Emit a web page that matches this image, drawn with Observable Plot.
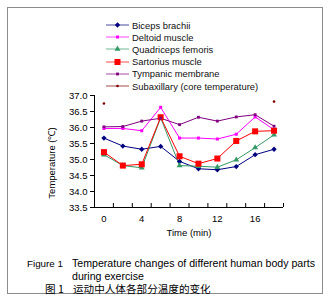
<!DOCTYPE html>
<html>
<head>
<meta charset="utf-8">
<script src="https://cdn.jsdelivr.net/npm/d3@7"></script>
<script src="https://cdn.jsdelivr.net/npm/@observablehq/plot@0.6"></script>
<style>
  html, body { margin: 0; padding: 0; background: #fff; }
  #wrap { position: relative; width: 331px; height: 300px; font-family: "Liberation Sans", Arial, sans-serif; color: #000; overflow: hidden; }
  #frame { position: absolute; left: 7px; top: 7px; width: 316px; height: 287px; border: 1px solid #8c8c8c; box-sizing: border-box; }
  .abs { position: absolute; white-space: nowrap; line-height: 11px; }
  #legend .row { position: absolute; left: 106px; height: 12px; display: flex; align-items: center; font-size: 9.4px; color: #111; }
  #legend svg { display: block; margin-right: 3px; }
  #plot { position: absolute; left: 0; top: 85px; }
  #ylab { position: absolute; left: 51px; top: 163px; transform: translate(-50%, -50%) rotate(-90deg); font-size: 9.5px; white-space: nowrap; }
  .cap { font-size: 10.6px; }
  .zh { font-family: "Noto Sans CJK SC", sans-serif; font-size: 10.6px; }
</style>
</head>
<body>
<div id="wrap">
  <div id="frame"></div>
  <div id="legend"></div>
  <div id="plot"></div>
  <div id="ylab">Temperature (℃)</div>
  <div class="abs cap" style="left:27px; top:257.5px; font-size:9.8px;">Figure 1</div>
  <div class="abs cap" style="left:72px; top:257.5px;">Temperature changes of different human body parts</div>
  <div class="abs cap" style="left:72px; top:270.5px;">during exercise</div>
  <div class="abs zh" style="left:45px; top:282.5px;">图 1</div>
  <div class="abs zh" style="left:73px; top:282.5px;">运动中人体各部分温度的变化</div>
</div>
<script>
// ---- data ----
const times = [0, 2, 4, 6, 8, 10, 12, 14, 16, 18];
const biceps = [35.67, 35.42, 35.32, 35.41, 34.94, 34.71, 34.68, 34.78, 35.15, 35.32];
const deltoid = [35.97, 35.97, 35.90, 36.63, 35.67, 35.67, 35.64, 35.79, 36.33, 35.93];
const quadriceps = [35.15, 34.81, 34.74, 36.30, 34.81, 34.79, 34.76, 34.99, 35.37, 35.77];
const sartorius = [35.23, 34.81, 34.85, 36.32, 35.10, 34.87, 35.03, 35.58, 35.88, 35.90];
const tympanic = [36.02, 36.03, 36.20, 36.29, 36.09, 36.32, 36.20, 36.33, 36.40, 36.04];
const subaxillaryTimes = [0, 18];
const subaxillary = [36.75, 36.81];

const seriesNames = ["Biceps brachii", "Deltoid muscle", "Quadriceps femoris", "Sartorius muscle", "Tympanic membrane", "Subaxillary (core temperature)"];
const seriesColors = ["#000080", "#ff00ff", "#339966", "#ff0000", "#800080", "#800000"];
const seriesSymbols = ["diamond2", "square", "triangle", "square", "square", "circle"];
const seriesR = [2.4, 1.7, 2.2, 3.4, 1.6, 1.3];
const seriesLines = [true, true, true, true, true, false];

const xTickLabels = [0, 4, 8, 12, 16];
const xTickMarks = [-1, 1, 3, 5, 7, 9, 11, 13, 15, 17, 19];
const yTicks = [33.5, 34.0, 34.5, 35.0, 35.5, 36.0, 36.5, 37.0];

const seriesValues = [biceps, deltoid, quadriceps, sartorius, tympanic, subaxillary];
const seriesTimes = [times, times, times, times, times, subaxillaryTimes];

const tables = seriesValues.map((vals, i) => vals.map((v, j) => ({series: seriesNames[i], time: seriesTimes[i][j], value: v})));

const marks = [
  Plot.ruleX([-1], {stroke: "#000", strokeWidth: 1}),
  Plot.ruleY([33.5], {stroke: "#000", strokeWidth: 1}),
  Plot.axisY({ticks: yTicks, tickFormat: d => d.toFixed(1), tickSize: 4, tickPadding: 3, label: null, fontSize: 9.5}),
  Plot.axisX({ticks: xTickMarks, tickSize: -4, tickFormat: () => "", label: null}),
  Plot.axisX({ticks: xTickLabels, tickSize: 0, tickPadding: 8, label: "Time (min)", labelAnchor: "center", labelOffset: 28, labelArrow: "none", fontSize: 9.5})
];
tables.forEach((t, i) => {
  if (seriesLines[i]) marks.push(Plot.line(t, {x: "time", y: "value", stroke: seriesColors[i], strokeWidth: 1}));
});
tables.forEach((t, i) => {
  marks.push(Plot.dot(t, {x: "time", y: "value", symbol: () => seriesSymbols[i], r: seriesR[i], fill: seriesColors[i], stroke: "none"}));
});

const chart = Plot.plot({
  width: 331,
  height: 160,
  marginTop: 10,
  marginLeft: 94,
  marginRight: 48,
  marginBottom: 38,
  style: {fontFamily: "'Liberation Sans', Arial, sans-serif", fontSize: "9.5px", color: "#000", background: "transparent", overflow: "visible"},
  x: {domain: [-1, 19]},
  y: {domain: [33.5, 37]},
  symbol: {type: "identity"},
  marks
});
document.getElementById("plot").appendChild(chart);

// ---- legend ----
const legend = d3.select("#legend");
const symGen = {diamond2: d3.symbolDiamond2, square: d3.symbolSquare, triangle: d3.symbolTriangle, circle: d3.symbolCircle};
seriesNames.forEach((name, i) => {
  const row = legend.append("div").attr("class", "row").style("top", (19 + i * 12.2) + "px");
  const svg = row.append("svg").attr("width", 23).attr("height", 12);
  svg.append("line").attr("x1", 0).attr("x2", 23).attr("y1", 6).attr("y2", 6)
    .attr("stroke", seriesColors[i]).attr("stroke-width", 1).attr("opacity", 0.7);
  const r = seriesR[i];
  svg.append("path").attr("transform", "translate(11.5,6)")
    .attr("d", d3.symbol(symGen[seriesSymbols[i]], Math.PI * r * r)())
    .attr("fill", seriesColors[i]);
  row.append("span").text(name);
});
</script>
</body>
</html>
